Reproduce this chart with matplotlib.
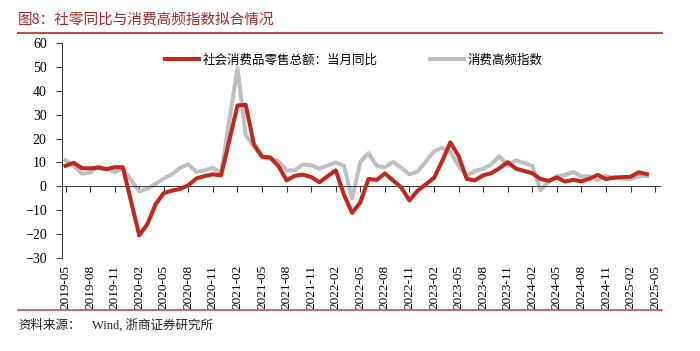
import numpy as np
import pandas as pd
import matplotlib.pyplot as plt
from matplotlib.lines import Line2D

plt.rcParams['font.serif'] = ['Liberation Serif', 'Times New Roman', 'DejaVu Serif']
plt.rcParams['font.family'] = ['serif', 'Noto Sans CJK SC']

# monthly values from 2019-05 to 2025-04, January missing (Jan-Feb combined)
retail_yoy = [8.6, 9.8, 7.6, 7.5, 7.8, 7.2, 8.0, 8.0,
              np.nan, -20.5, -15.8, -7.5, -2.8, -1.8, -1.1, 0.5, 3.3, 4.3, 5.0, 4.6,
              np.nan, 33.8, 34.2, 17.7, 12.4, 12.1, 8.5, 2.5, 4.4, 4.9, 3.9, 1.7,
              np.nan, 6.7, -3.5, -11.1, -6.7, 3.1, 2.7, 5.4, 2.5, -0.5, -5.9, -1.8,
              np.nan, 3.5, 10.6, 18.4, 12.7, 3.1, 2.5, 4.6, 5.5, 7.6, 10.1, 7.4,
              np.nan, 5.5, 3.1, 2.3, 3.7, 2.0, 2.7, 2.1, 3.2, 4.8, 3.0, 3.7,
              np.nan, 4.0, 5.9, 5.1]
hf_index = [10.9, 8.6, 5.3, 5.7, 8.4, 7.4, 6.0, 7.4,
            np.nan, -2.1, -1.0, 1.0, 3.2, 5.0, 7.8, 9.2, 6.0, 6.7, 7.8, 5.6,
            np.nan, 49.5, 21.5, 16.6, 12.3, 11.5, 10.5, 6.7, 6.7, 9.2, 8.8, 7.4,
            np.nan, 10.0, 8.6, -5.1, 10.2, 13.9, 8.6, 8.0, 10.2, 7.8, 5.0, 6.2,
            np.nan, 14.6, 16.2, 14.4, 8.5, 4.4, 6.4, 7.4, 9.2, 12.6, 8.8, 10.9,
            np.nan, 8.6, -1.7, 2.0, 4.2, 4.8, 6.0, 4.2, 4.2, 2.6, 4.4, 3.5,
            np.nan, 3.0, 4.2, 4.3]
tick_months = [str(p) for p in pd.period_range('2019-05', '2025-05', freq='M')[::3]]

retail_name = '社会消费品零售总额：当月同比'
hf_name = '消费高频指数'

x = np.arange(len(retail_yoy))
retail = np.array(retail_yoy)
hf = np.array(hf_index)

fig = plt.figure(figsize=(7, 3.51), dpi=100)
ax = fig.add_axes([62/700, 1-258/351, 598/700, 215/351])

m = ~np.isnan(hf)
ax.plot(x[m], hf[m], color='#BFBFBF', lw=2.9, label=hf_name, zorder=2)
m = ~np.isnan(retail)
ax.plot(x[m], retail[m], color='#C0281E', lw=2.9, label=retail_name, zorder=3)

ax.set_ylim(-30, 60)
ax.set_yticks(range(-30, 61, 10))
ax.set_xlim(-0.43, 72.6)

for s in ['top', 'right']:
    ax.spines[s].set_visible(False)
ax.spines['left'].set_color('#404040')
ax.spines['bottom'].set_position(('data', 0))
ax.spines['bottom'].set_color('#404040')

tick_pos = np.arange(0, 73, 3)
ax.set_xticks(tick_pos)
ax.tick_params(axis='x', direction='out', length=4, color='#404040', labelbottom=False)
ax.tick_params(axis='y', direction='out', length=4, color='#404040', pad=7, labelsize=10)

sec = ax.secondary_xaxis('bottom')
sec.set_xticks(tick_pos, tick_months, rotation=90, fontsize=9.5)
sec.tick_params(length=0, pad=5)
sec.spines['bottom'].set_visible(False)

h, l = ax.get_legend_handles_labels()
ax.legend(h[::-1], l[::-1], ncol=2, loc='center', bbox_to_anchor=(0.488, 0.921),
          frameon=False, handlelength=2.7, handletextpad=0.3, columnspacing=4.2,
          prop={'family': ['Noto Sans CJK SC'], 'size': 9})

fig.text(18/700, 1-20/351, '图8：社零同比与消费高频指数拟合情况', color='#A52A2A',
         fontsize=10.5, va='center', ha='left', family=['Noto Sans CJK SC'])
fig.text(18/700, 1-325/351, '资料来源：', color='#222222',
         fontsize=9, va='center', ha='left', family=['Noto Sans CJK SC'])
fig.text(92/700, 1-325/351, 'Wind, 浙商证券研究所', color='#222222',
         fontsize=9, va='center', ha='left', family=['Liberation Serif', 'Noto Sans CJK SC'])
fig.add_artist(Line2D([18/700, 662/700], [1-33/351]*2, color='#C0504D', lw=1.5))
fig.add_artist(Line2D([18/700, 662/700], [1-310/351]*2, color='#C0504D', lw=1.2))

fig.savefig('out.png', dpi=100)
